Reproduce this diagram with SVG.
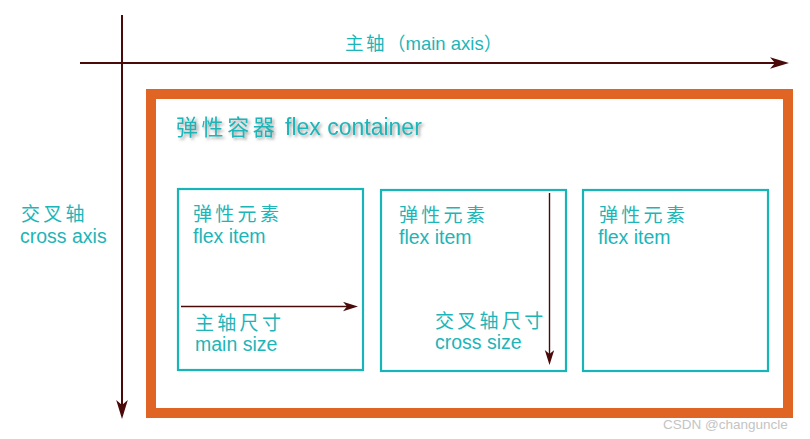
<svg xmlns="http://www.w3.org/2000/svg" width="810" height="439" viewBox="0 0 810 439">
<style>
.t{fill:#1db5b8;font-family:"Liberation Sans","Noto Sans CJK SC",Arial,sans-serif;}
.cn{font-family:"Noto Sans CJK SC","Liberation Sans",sans-serif;font-size:19px;letter-spacing:3.3px;fill:#1db5b8;}
.en{font-size:19.5px;}
.item{fill:none;stroke:#17b5b8;stroke-width:2.2;}
.axis{stroke:#4b0a0a;stroke-width:2;fill:none;}
.sub{stroke:#4b0a0a;stroke-width:1.4;fill:none;}
</style>
<defs>
<marker id="bigArrow" markerUnits="userSpaceOnUse" markerWidth="20" markerHeight="12" refX="5" refY="5.8" orient="auto">
<path d="M0,0 L19,5.8 L0,11.6 L5,5.8 Z" fill="#4b0a0a"/>
</marker>
<marker id="smallArrow" markerUnits="userSpaceOnUse" markerWidth="16" markerHeight="10" refX="4" refY="4.7" orient="auto">
<path d="M0,0 L15,4.7 L0,9.4 L4,4.7 Z" fill="#4b0a0a"/>
</marker>
<filter id="shadow" x="-10%" y="-30%" width="120%" height="160%">
<feDropShadow dx="2" dy="2" stdDeviation="1.5" flood-color="#555" flood-opacity="0.55"/>
</filter>
</defs>

<g id="container">
<rect x="151" y="94" width="637" height="319" fill="#fff" stroke="#e06424" stroke-width="10"/>
<text class="t" x="176" y="135" font-size="23" filter="url(#shadow)"><tspan class="cn" style="font-size:22px;letter-spacing:3.6px">弹性容器</tspan><tspan x="285">flex container</tspan></text>
</g>

<g id="item1">
<rect class="item" x="178" y="189" width="185" height="181"/>
<text class="cn" x="193" y="221">弹性元素</text>
<text class="t en" x="193" y="243">flex item</text>
<text class="cn" x="195" y="330">主轴尺寸</text>
<text class="t en" x="195" y="351">main size</text>
</g>

<g id="item2">
<rect class="item" x="381" y="190" width="185" height="181"/>
<text class="cn" x="399" y="222">弹性元素</text>
<text class="t en" x="399" y="244">flex item</text>
<text class="cn" x="435" y="328">交叉轴尺寸</text>
<text class="t en" x="435" y="349">cross size</text>
</g>

<g id="item3">
<rect class="item" x="583" y="190" width="185" height="181"/>
<text class="cn" x="599" y="222">弹性元素</text>
<text class="t en" x="598" y="244">flex item</text>
</g>

<g id="main-axis-label">
<text class="t" font-size="18.5" x="345" y="50"><tspan class="cn" style="font-size:18.5px;letter-spacing:2.5px">主轴</tspan><tspan class="cn" style="font-size:18.5px;letter-spacing:0">（</tspan>main axis<tspan class="cn" style="font-size:18.5px;letter-spacing:0">）</tspan></text>
</g>

<g id="cross-axis-label">
<text class="cn" x="21" y="221">交叉轴</text>
<text class="t en" x="20" y="243">cross axis</text>
</g>

<g id="connectors">
<line class="axis" x1="122" y1="15" x2="122" y2="405" marker-end="url(#bigArrow)"/>
<line class="axis" x1="80" y1="63" x2="775" y2="63" marker-end="url(#bigArrow)"/>
<line class="sub" x1="181" y1="306.5" x2="347" y2="306.5" marker-end="url(#smallArrow)"/>
<line class="sub" x1="549.5" y1="193" x2="549.5" y2="354" marker-end="url(#smallArrow)"/>
</g>

<text x="663" y="429" font-family="Liberation Sans,Arial,sans-serif" font-size="13.5" fill="#c4c4c4">CSDN @changuncle</text>
</svg>
